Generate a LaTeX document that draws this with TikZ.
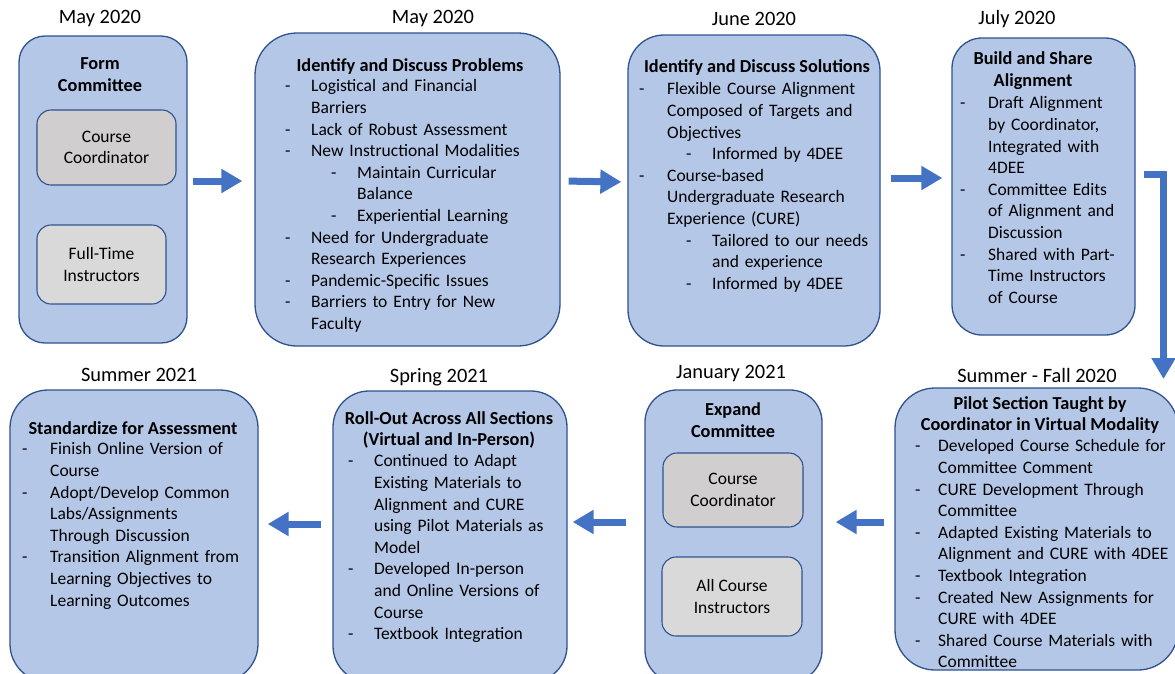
\documentclass[tikz,border=0pt]{standalone}
\usepackage{fontspec}
\setmainfont{Carlito}
\usepackage{tikz}
\usetikzlibrary{arrows.meta}

\definecolor{boxfill}{HTML}{B4C7E7}
\definecolor{boxline}{HTML}{2F528F}
\definecolor{flowblue}{HTML}{4472C4}
\definecolor{coordfill}{HTML}{D0CECE}
\definecolor{instrfill}{HTML}{D9D9D9}

% list lines: dash, then hanging text
\newcommand{\li}[2][26pt]{\par\hangindent=#1\hangafter=1\noindent\makebox[#1][l]{-}#2\par}
\newcommand{\lii}[2][46pt]{\par\hangindent=\dimexpr#1+26pt\relax\hangafter=1\noindent\hspace*{#1}\makebox[26pt][l]{-}#2\par}

\begin{document}
\begin{tikzpicture}
   [x=1pt,y=-1pt,font=\fontsize{17.5}{21.6}\selectfont,
    box/.style={draw=boxline,fill=boxfill,line width=1.3pt},
    inbox/.style={draw=boxline,line width=1.1pt,rounded corners=14pt,align=center},
    date/.style={font=\fontsize{20.4}{24}\selectfont},
    head/.style={font=\fontsize{18.3}{21.6}\selectfont\bfseries,align=center,inner sep=0pt},
    list/.style={anchor=north west,inner sep=0pt,text width=280pt,align=left},
    flow/.style={draw=flowblue,line width=7pt,-{Triangle[width=23pt,length=21pt]}}]
   \useasboundingbox (0,0) rectangle (1175,673);
   \clip (0,0) rectangle (1175,673);

   % top row
   \node[box,rounded corners=26pt,minimum width=168pt,minimum height=307pt] (b1) at (103,189.5) {};
   \node[box,rounded corners=42pt,minimum width=305pt,minimum height=313pt] (b2) at (407.5,189.5) {};
   \node[box,rounded corners=36pt,minimum width=252pt,minimum height=311pt] (b3) at (754,190.5) {};
   \node[box,rounded corners=30pt,minimum width=183pt,minimum height=297pt] (b4) at (1043.5,186.5) {};

   % bottom row
   \node[box,rounded corners=38pt,minimum width=248pt,minimum height=292pt] (b5) at (134,536) {};
   \node[box,rounded corners=36pt,minimum width=234pt,minimum height=291pt] (b6) at (450,536.5) {};
   \node[box,rounded corners=32pt,minimum width=177pt,minimum height=292pt] (b7) at (733.5,536) {};
   \node[box,rounded corners=40pt,minimum width=283pt,minimum height=282pt] (b8) at (1036.5,529) {};

   \node[date] (d1) at (100,19) {May 2020};
   \node[date] (d2) at (433,19) {May 2020};
   \node[date] (d3) at (754,19) {June 2020};
   \node[date] (d4) at (1017,19) {July 2020};
   \node[date] (d5) at (139,375) {Summer 2021};
   \node[date] (d6) at (439,377) {Spring 2021};
   \node[date] (d7) at (731,374) {January 2021};
   \node[date] (d8) at (1037,375) {Summer - Fall 2020};

   \node[head] (h1) at (100,74.5) {Form\\Committee};
   \node[head] (h2) at (410,66) {Identify and Discuss Problems};
   \node[head] (h3) at (757,68) {Identify and Discuss Solutions};
   \node[head] (h4) at (1033,70.5) {Build and Share\\Alignment};
   \node[head] (h5) at (133,428) {Standardize for Assessment};
   \node[head] (h6) at (449,430) {Roll-Out Across All Sections\\(Virtual and In-Person)};
   \node[head] (h7) at (733,420) {Expand\\Committee};
   \node[head] (h8) at (1040,415) {Pilot Section Taught by\\Coordinator in Virtual Modality};

   \node[inbox,fill=coordfill,minimum width=139pt,minimum height=75pt] (c1) at (106.5,147.5) {Course\\Coordinator};
   \node[inbox,fill=instrfill,minimum width=129pt,minimum height=79pt] (f1) at (101.5,264.5) {Full-Time\\Instructors};
   \node[inbox,fill=coordfill,minimum width=140pt,minimum height=74pt] (c7) at (733,490) {Course\\Coordinator};
   \node[inbox,fill=instrfill,minimum width=140pt,minimum height=79pt] (a7) at (732,596.5) {All Course\\Instructors};

   \node[list] (l2) at (285,70) {
      \li{Logistical and Financial\newline Barriers}
      \li{Lack of Robust Assessment}
      \li{New Instructional Modalities}
      \lii{Maintain Curricular\newline Balance}
      \lii{Experiential Learning}
      \li{Need for Undergraduate\newline Research Experiences}
      \li{Pandemic-Specific Issues}
      \li{Barriers to Entry for New\newline Faculty}};
   \node[list] (l3) at (639,73) {
      \li[28pt]{Flexible Course Alignment\newline Composed of Targets and\newline Objectives}
      \lii[47pt]{Informed by 4DEE}
      \li[28pt]{Course-based\newline Undergraduate Research\newline Experience (CURE)}
      \lii[47pt]{Tailored to our needs\newline and experience}
      \lii[47pt]{Informed by 4DEE}};
   \node[list] (l4) at (960,87) {
      \li[28pt]{Draft Alignment\newline by Coordinator,\newline Integrated with\newline 4DEE}
      \li[28pt]{Committee Edits\newline of Alignment and\newline Discussion}
      \li[28pt]{Shared with Part-\newline Time Instructors\newline of Course}};
   \node[list] (l5) at (22,433) {
      \li[28pt]{Finish Online Version of\newline Course}
      \li[28pt]{Adopt/Develop Common\newline Labs/Assignments\newline Through Discussion}
      \li[28pt]{Transition Alignment from\newline Learning Objectives to\newline Learning Outcomes}};
   \node[list] (l6) at (348,445) {
      \li{Continued to Adapt\newline Existing Materials to\newline Alignment and CURE\newline using Pilot Materials as\newline Model}
      \li{Developed In-person\newline and Online Versions of\newline Course}
      \li{Textbook Integration}};
   \node[list] (l8) at (915,430) {
      \li[23pt]{Developed Course Schedule for\newline Committee Comment}
      \li[23pt]{CURE Development Through\newline Committee}
      \li[23pt]{Adapted Existing Materials to\newline Alignment and CURE with 4DEE}
      \li[23pt]{Textbook Integration}
      \li[23pt]{Created New Assignments for\newline CURE with 4DEE}
      \li[23pt]{Shared Course Materials with\newline Committee}};

   % arrows
   \draw[flow,shorten <=5pt,shorten >=12pt] ([yshift=8.5pt]b1.east) -- ([yshift=8.5pt]b2.west);
   \draw[flow,shorten <=8pt,shorten >=6pt] ([yshift=8.5pt]b2.east) -- ([yshift=8.5pt]b3.west);
   \draw[flow,shorten <=10pt,shorten >=9pt] ([yshift=12.5pt]b3.east) -- ([yshift=8.5pt]b4.west);
   \coordinate (down) at (1163.5,379);
   \draw[flow,shorten <=8pt] ([yshift=12.5pt]b4.east) -| (down);
   \draw[flow,shorten <=10pt,shorten >=13pt] ([yshift=7pt]b8.west) -- ([yshift=14pt]b7.east);
   \draw[flow,shorten <=18pt,shorten >=5pt] ([yshift=14pt]b7.west) -- ([yshift=14.5pt]b6.east);
   \draw[flow,shorten <=11pt,shorten >=9pt] ([yshift=12.5pt]b6.west) -- ([yshift=12pt]b5.east);
\end{tikzpicture}
\end{document}
